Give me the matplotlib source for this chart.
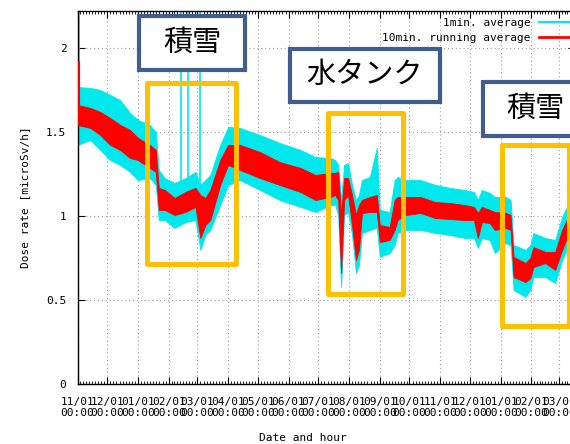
import matplotlib
matplotlib.use("Agg")
import matplotlib.pyplot as plt
import matplotlib.dates as mdates
from matplotlib.patches import Rectangle
from matplotlib.lines import Line2D
from matplotlib.ticker import FixedLocator, FixedFormatter
import pandas as pd
import numpy as np

# ---------------- data ----------------
dates = ["2011-11-01", "2011-11-14", "2011-11-24", "2011-12-04", "2011-12-14",
         "2011-12-24", "2012-01-01", "2012-01-13", "2012-01-19", "2012-01-22",
         "2012-01-28", "2012-02-07", "2012-02-18", "2012-02-28", "2012-03-04",
         "2012-03-09", "2012-03-14", "2012-03-24", "2012-04-01", "2012-04-13",
         "2012-05-03", "2012-05-23", "2012-06-13", "2012-06-28", "2012-07-13",
         "2012-07-18", "2012-07-21", "2012-07-24", "2012-07-27", "2012-07-31",
         "2012-08-04", "2012-08-08", "2012-08-11", "2012-08-14", "2012-08-22",
         "2012-08-29", "2012-09-01", "2012-09-11", "2012-09-16", "2012-09-19",
         "2012-09-27", "2012-10-12", "2012-10-27", "2012-11-11", "2012-11-26",
         "2012-12-05", "2012-12-09", "2012-12-13", "2012-12-21", "2012-12-26",
         "2013-01-06", "2013-01-11", "2013-01-14", "2013-01-26", "2013-01-31",
         "2013-02-03", "2013-02-15", "2013-02-25", "2013-03-04", "2013-03-12"]

# 1 min. average: upper / lower envelope
cyan_hi = [1.768, 1.762, 1.750, 1.720, 1.690, 1.613, 1.571, 1.542, 1.500, 1.274,
           1.226, 1.196, 1.226, 1.262, 1.185, 1.214, 1.244, 1.423, 1.530, 1.524,
           1.482, 1.435, 1.393, 1.351, 1.345, 1.333, 1.304, 1.095, 1.304, 1.315,
           1.185, 1.095, 1.125, 1.214, 1.232, 1.405, 1.036, 1.024, 1.214, 1.232,
           1.214, 1.214, 1.185, 1.167, 1.155, 1.143, 1.095, 1.155, 1.137, 1.113,
           1.113, 1.095, 0.827, 0.798, 0.827, 0.899, 0.869, 0.857, 0.994, 1.095]
cyan_lo = [1.423, 1.452, 1.393, 1.333, 1.304, 1.262, 1.214, 1.226, 1.185, 0.976,
           0.976, 0.929, 0.964, 0.976, 0.798, 0.887, 0.917, 1.065, 1.185, 1.214,
           1.155, 1.095, 1.054, 1.024, 1.065, 1.065, 1.006, 0.577, 1.006, 1.024,
           0.887, 0.661, 0.708, 0.899, 0.917, 0.929, 0.756, 0.780, 0.827, 0.899,
           0.917, 0.917, 0.899, 0.887, 0.869, 0.869, 0.810, 0.869, 0.857, 0.780,
           0.839, 0.827, 0.560, 0.518, 0.560, 0.637, 0.637, 0.601, 0.738, 0.839]

# 10 min. running average: upper / lower envelope
red_hi = [1.661, 1.643, 1.619, 1.583, 1.542, 1.512, 1.464, 1.423, 1.393, 1.167,
          1.155, 1.107, 1.143, 1.167, 1.125, 1.107, 1.155, 1.333, 1.423, 1.423,
          1.381, 1.321, 1.286, 1.244, 1.256, 1.256, 1.262, 1.006, 1.226, 1.226,
          1.125, 1.006, 1.065, 1.095, 1.113, 1.125, 0.946, 0.935, 1.095, 1.113,
          1.113, 1.113, 1.083, 1.077, 1.065, 1.054, 1.018, 1.054, 1.036, 1.024,
          1.018, 1.006, 0.756, 0.720, 0.750, 0.815, 0.786, 0.786, 0.917, 1.018]
red_lo = [1.542, 1.524, 1.482, 1.423, 1.393, 1.345, 1.333, 1.286, 1.262, 1.036,
          1.036, 1.006, 1.024, 1.054, 0.869, 0.946, 0.976, 1.185, 1.304, 1.274,
          1.226, 1.185, 1.143, 1.095, 1.113, 1.125, 1.095, 0.661, 1.095, 1.125,
          0.946, 0.738, 0.798, 1.018, 1.024, 1.024, 0.845, 0.857, 0.917, 0.976,
          1.006, 1.018, 0.988, 0.982, 0.976, 0.976, 0.869, 0.964, 0.958, 0.917,
          0.929, 0.917, 0.637, 0.607, 0.631, 0.696, 0.720, 0.679, 0.798, 0.917]

# isolated spikes
cyan_spike_dates = ["2011-11-03", "2012-02-13", "2012-02-20", "2012-03-04"]
cyan_spike_base = [1.70, 1.20, 1.21, 1.18]
cyan_spike_top = [2.40, 2.40, 2.40, 2.40]
red_spike_dates = ["2011-11-03"]
red_spike_base = [1.62]
red_spike_top = [1.92]

series_labels = ["1min. average", "10min. running average"]
month_ticks = pd.date_range("2011-11-01", "2013-03-01", freq="MS")
y_ticks = [0, 0.5, 1, 1.5, 2]
y_tick_labels = ["0", "0.5", "1", "1.5", "2"]

# annotation regions: (start date, end date, low value, high value)
orange_regions = [("2012-01-10", "2012-04-09", 0.714, 1.792),
                  ("2012-07-11", "2012-09-24", 0.535, 1.612),
                  ("2013-01-02", "2013-03-11", 0.346, 1.423)]
label_boxes = [("2012-01-02", "2012-04-18", 1.870, 2.189, "積雪"),
               ("2012-06-02", "2012-11-01", 1.679, 1.996, "水タンク"),
               ("2012-12-14", "2013-03-31", 1.475, 1.798, "積雪")]

CYAN = "#00E8EC"
RED = "#FF0000"
ORANGE = "#FFC000"
BLUE = "#3F5E8C"

plt.rcParams["font.family"] = ["DejaVu Sans Mono"]
plt.rcParams["font.size"] = 8

W, H = 570, 444
fig = plt.figure(figsize=(W / 100, H / 100), dpi=100)
ax = fig.add_axes([77.5 / W, 60 / H, (575 - 77.5) / W, 373 / H])

d = pd.to_datetime(dates)
ax.fill_between(d, cyan_lo, cyan_hi, color=CYAN, lw=0.6, zorder=2)
ax.vlines(pd.to_datetime(cyan_spike_dates), cyan_spike_base, cyan_spike_top,
          color=CYAN, lw=1.2, zorder=2)
ax.fill_between(d, red_lo, red_hi, color=RED, lw=0.6, zorder=3)
ax.vlines(pd.to_datetime(red_spike_dates), red_spike_base, red_spike_top,
          color=RED, lw=1.5, zorder=3)

x0 = pd.Timestamp("2011-11-01")
x1 = pd.Timestamp("2013-03-17")
ax.set_xlim(x0, x1)
ax.set_ylim(0, 2.22)

# ticks
mt = mdates.date2num(month_ticks)
ax.xaxis.set_major_locator(FixedLocator(mt))
ax.xaxis.set_major_formatter(mdates.DateFormatter("%m/%d\n%H:%M"))
minor = []
for a, b in zip(mt[:-1], mt[1:]):
    minor.extend(np.linspace(a, b, 11)[1:-1])
extra = mt[-1] + (mt[-1] - mt[-2]) * np.arange(1, 10) / 10
minor.extend(extra)
ax.xaxis.set_minor_locator(FixedLocator(minor))
ax.yaxis.set_major_locator(FixedLocator(y_ticks))
ax.yaxis.set_major_formatter(FixedFormatter(y_tick_labels))

ax.tick_params(which="both", direction="in", top=True, right=True, colors="black")
ax.tick_params(which="major", length=5, width=0.8)
ax.tick_params(which="minor", length=2.5, width=0.6)
ax.tick_params(axis="x", which="major", pad=9, labelsize=8)
ax.tick_params(axis="y", which="major", pad=8, labelsize=8)

for s in ax.spines.values():
    s.set_linewidth(1.0)

ax.grid(True, which="major", color="#9a9a9a", linestyle=(0, (1, 2.5)), lw=0.8)
ax.set_axisbelow(True)

ax.set_xlabel("Date and hour", fontsize=8)
ax.xaxis.set_label_coords((303 - 77.5) / 497.5, -(438 - 384) / 373)
ax.xaxis.label.set_va("center")
ax.set_ylabel("Dose rate [microSv/h]", fontsize=8)
ax.yaxis.set_label_coords((25 - 77.5) / 497.5, 0.5)
ax.yaxis.label.set_va("center")

# annotation boxes
for s, e, lo, hi in orange_regions:
    xs, xe = mdates.date2num(pd.Timestamp(s)), mdates.date2num(pd.Timestamp(e))
    ax.add_patch(Rectangle((xs, lo), xe - xs, hi - lo, fill=False, edgecolor=ORANGE,
                           lw=3.6, joinstyle="round", zorder=5, clip_on=False))
for s, e, lo, hi, txt in label_boxes:
    xs, xe = mdates.date2num(pd.Timestamp(s)), mdates.date2num(pd.Timestamp(e))
    ax.add_patch(Rectangle((xs, lo), xe - xs, hi - lo, facecolor="white", edgecolor=BLUE,
                           lw=3.0, zorder=6, clip_on=False))
    ax.text((xs + xe) / 2, (lo + hi) / 2, txt, ha="center", va="center", fontsize=21,
            family=["Noto Sans CJK JP"], zorder=7, clip_on=False)

handles = [Line2D([], [], color=CYAN, lw=1.6), Line2D([], [], color=RED, lw=2.0)]
ax.legend(handles, series_labels, loc="upper right", bbox_to_anchor=(572 / W, 1 - 18 / H),
          bbox_transform=fig.transFigure, frameon=False, markerfirst=False,
          handlelength=3.0, handletextpad=0.75, labelspacing=0.42, borderaxespad=0,
          borderpad=0, fontsize=8)

fig.savefig("out.png", dpi=100)
